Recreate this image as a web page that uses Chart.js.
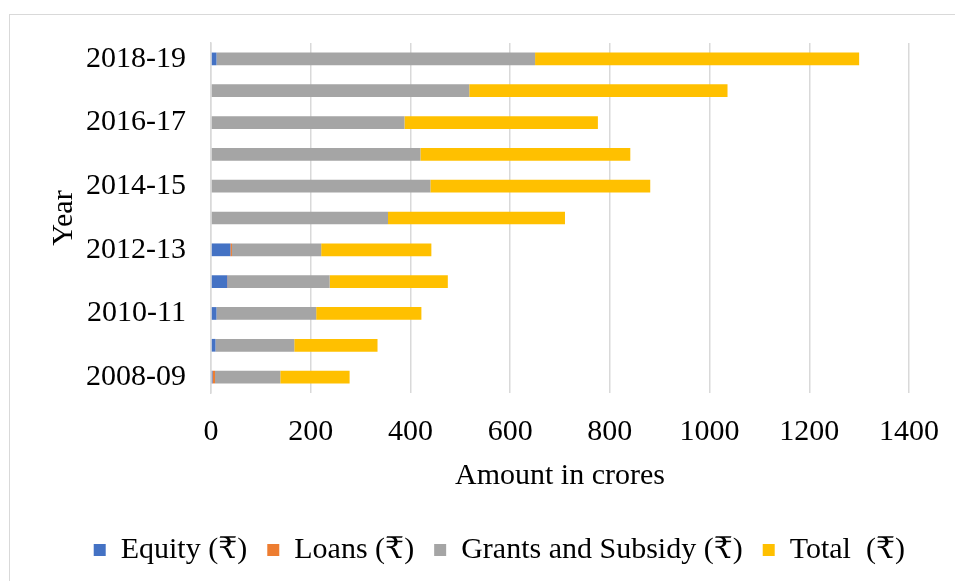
<!DOCTYPE html>
<html lang="en">
  <head>
    <meta charset="UTF-8" />
    <title>Amount in crores by year</title>
    <script src="https://cdn.jsdelivr.net/npm/chart.js"></script>
    <style>
      html,
      body {
        margin: 0;
        padding: 0;
        background: #fff;
        overflow: hidden;
      }
      #frame {
        position: absolute;
        left: 9px;
        top: 14px;
        width: 1000px;
        height: 700px;
        border: 1px solid #d9d9d9;
      }
      #wrap {
        position: absolute;
        left: 0;
        top: 0;
        width: 955px;
        height: 581px;
      }
    </style>
  </head>
  <body>
    <div id="frame"></div>
    <div id="wrap"><canvas id="grafica"></canvas></div>
    <script>
      const YEARS = [
        "2008-09", "2009-10", "2010-11", "2011-12", "2012-13", "2013-14",
        "2014-15", "2015-16", "2016-17", "2017-18", "2018-19",
      ];
      const EQUITY = [3, 9, 11, 33, 39, 0, 0, 0, 0, 0, 11];
      const LOANS = [5, 0, 0, 1, 3, 0, 0, 0, 0, 0, 0];
      const GRANTS = [131, 158, 200, 204, 179, 355, 440, 420, 388, 518, 639];
      const TOTAL = [139, 167, 211, 237, 221, 355, 441, 421, 388, 518, 650];
      const X_MAX = 1400;
      const X_STEP = 200;

      const FONT = "'Liberation Serif', 'Times New Roman', 'DejaVu Serif', serif";

      function serie(label, data, color) {
        return {
          label: label,
          data: data,
          backgroundColor: color,
          borderWidth: 0,
          barPercentage: 0.4,
          categoryPercentage: 1.0,
        };
      }

      var ctx = document.getElementById("grafica").getContext("2d");
      var chart = new Chart(ctx, {
        type: "bar",
        data: {
          labels: YEARS,
          datasets: [
            serie("Equity (₹)", EQUITY, "#4472C4"),
            serie("Loans (₹)", LOANS, "#ED7D31"),
            serie("Grants and Subsidy (₹)", GRANTS, "#A5A5A5"),
            serie("Total  (₹)", TOTAL, "#FFC000"),
          ],
        },
        options: {
          indexAxis: "y",
          responsive: true,
          maintainAspectRatio: false,
          animation: false,
          layout: {
            padding: { left: 10, top: 43, right: 30, bottom: 6 },
          },
          scales: {
            x: {
              stacked: true,
              min: 0,
              max: X_MAX,
              ticks: {
                stepSize: X_STEP,
                padding: 21,
                color: "#000",
                font: { family: FONT, size: 30 },
                maxRotation: 0,
                // sin separador de miles
                callback: function (value) {
                  return String(value);
                },
              },
              grid: { color: "#d9d9d9", lineWidth: 1.5, drawTicks: false },
              border: { display: false },
              title: {
                display: true,
                text: "Amount in crores",
                color: "#000",
                font: { family: FONT, size: 30 },
                padding: { bottom: 21 },
              },
              afterFit: function (scale) {
                scale.height = 122;
                scale.paddingRight = 46;
              },
            },
            y: {
              stacked: true,
              reverse: true,
              ticks: {
                autoSkip: false,
                padding: 25,
                color: "#000",
                font: { family: FONT, size: 30 },
                // etiqueta solo en años alternos
                callback: function (value, index) {
                  return index % 2 === 0 ? this.getLabelForValue(value) : "";
                },
              },
              grid: { display: false, drawTicks: false },
              border: { display: true, color: "#d9d9d9", width: 1.5 },
              title: {
                display: true,
                text: "Year",
                color: "#000",
                font: { family: FONT, size: 30 },
                padding: { top: 36 },
              },
              afterFit: function (scale) {
                scale.width = 201;
              },
            },
          },
          plugins: {
            legend: {
              position: "bottom",
              align: "end",
              labels: {
                boxWidth: 12,
                boxHeight: 12,
                padding: 20,
                color: "#000",
                font: { family: FONT, size: 30 },
              },
            },
            tooltip: { enabled: false },
          },
        },
      });
    </script>
  </body>
</html>
